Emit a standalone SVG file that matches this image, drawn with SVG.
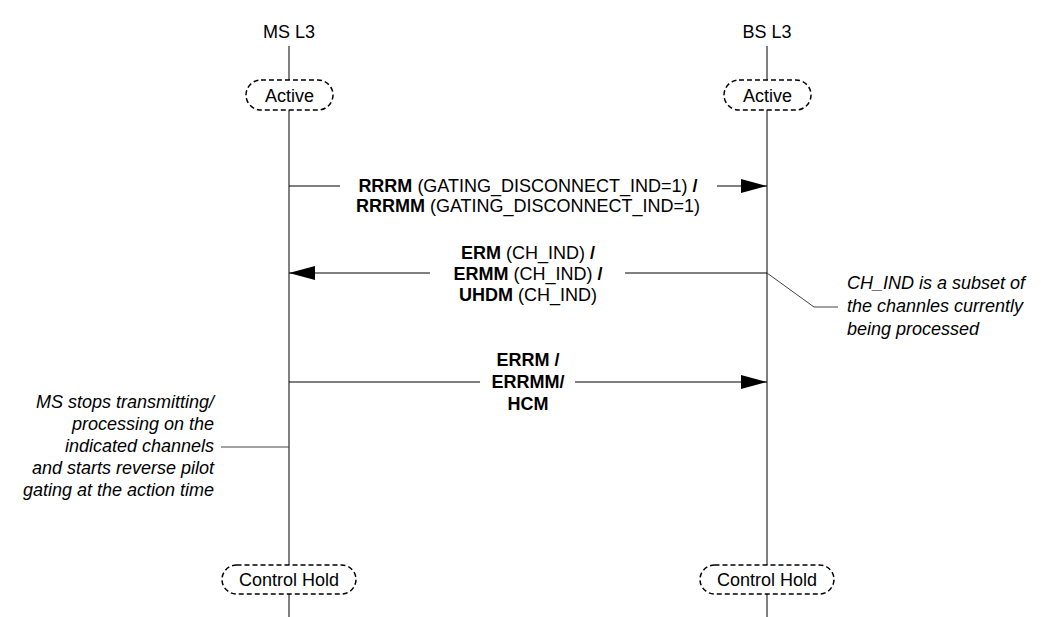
<svg xmlns="http://www.w3.org/2000/svg" width="1041" height="617" viewBox="0 0 1041 617">
<style>
text{font-family:"Liberation Sans",Arial,sans-serif;font-size:18px;fill:#000}
.c{text-anchor:middle}
.b{font-weight:bold}
.i{font-style:italic}
.r{text-anchor:end}
.life{stroke:#000;stroke-width:1;fill:none}
.state{fill:#fff;stroke:#000;stroke-width:1.5;stroke-dasharray:5 3}
.msg{stroke:#000;stroke-width:1;fill:none}
.note{stroke:#444;stroke-width:1;fill:none}
</style>
<defs>
<marker id="ah" viewBox="0 0 26 14" refX="26" refY="7" markerWidth="26" markerHeight="14" markerUnits="userSpaceOnUse" orient="auto">
<path d="M0,0 L26,7 L0,14 Z" fill="#000"/>
</marker>
</defs>
<rect width="1041" height="617" fill="#fff"/>
<g id="ms">
<text class="c" x="289" y="38">MS L3</text>
<line class="life" x1="289" y1="46" x2="289" y2="617"/>
</g>
<g id="bs">
<text class="c" x="767" y="38">BS L3</text>
<line class="life" x1="767" y1="46" x2="767" y2="617"/>
</g>
<g id="ms-active">
<rect class="state" x="246" y="80" width="87" height="30" rx="15"/>
<text class="c" x="289.5" y="101.5">Active</text>
</g>
<g id="bs-active">
<rect class="state" x="724" y="80" width="87" height="30" rx="15"/>
<text class="c" x="767.5" y="101.5">Active</text>
</g>
<g id="ms-hold">
<rect class="state" x="222" y="565" width="134" height="29" rx="14.5"/>
<text class="c" x="289" y="586">Control Hold</text>
</g>
<g id="bs-hold">
<rect class="state" x="700" y="565" width="134" height="29" rx="14.5"/>
<text class="c" x="767" y="586">Control Hold</text>
</g>
<g id="connectors">
<line class="msg" x1="289" y1="186" x2="340" y2="186"/>
<line class="msg" x1="717" y1="186" x2="767" y2="186" marker-end="url(#ah)"/>
<line class="msg" x1="767" y1="273" x2="625" y2="273"/>
<line class="msg" x1="430" y1="273" x2="289" y2="273" marker-end="url(#ah)"/>
<line class="msg" x1="289" y1="382" x2="480" y2="382"/>
<line class="msg" x1="575" y1="382" x2="767" y2="382" marker-end="url(#ah)"/>
<polyline class="note" points="767,273 814,307 838,307"/>
<line class="note" x1="221" y1="447" x2="289" y2="447"/>
</g>
<g id="msg1-label">
<text class="c" x="528" y="192"><tspan class="b">RRRM</tspan> (GATING_DISCONNECT_IND=1) <tspan class="b">/</tspan></text>
<text class="c" x="528" y="212"><tspan class="b">RRRMM</tspan> (GATING_DISCONNECT_IND=1)</text>
</g>
<g id="msg2-label">
<text class="c" x="528" y="259"><tspan class="b">ERM</tspan> (CH_IND) <tspan class="b">/</tspan></text>
<text class="c" x="528" y="280"><tspan class="b">ERMM</tspan> (CH_IND) <tspan class="b">/</tspan></text>
<text class="c" x="528" y="301"><tspan class="b">UHDM</tspan> (CH_IND)</text>
</g>
<g id="msg3-label">
<text class="c b" x="528" y="366">ERRM /</text>
<text class="c b" x="528" y="388">ERRMM/</text>
<text class="c b" x="528" y="410">HCM</text>
</g>
<g id="note-right">
<text class="i" x="847" y="289">CH_IND is a subset of</text>
<text class="i" x="847" y="312">the channles currently</text>
<text class="i" x="847" y="335">being processed</text>
</g>
<g id="note-left">
<text class="i r" x="214" y="408">MS stops transmitting/</text>
<text class="i r" x="214" y="430">processing on the</text>
<text class="i r" x="214" y="452">indicated channels</text>
<text class="i r" x="214" y="474">and starts reverse pilot</text>
<text class="i r" x="214" y="496">gating at the action time</text>
</g>
</svg>
